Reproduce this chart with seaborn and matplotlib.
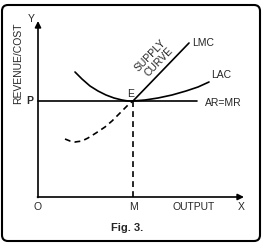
import matplotlib
matplotlib.use("Agg")
import matplotlib.pyplot as plt
import seaborn as sns
import pandas as pd
from matplotlib.patches import FancyBboxPatch

sns.set_theme(style="white")
plt.rcParams['font.family'] = ['Liberation Sans', 'DejaVu Sans']

# Data (output units vs revenue/cost units)
lac_output = [37, 44, 52, 60, 68, 76, 84, 90, 95, 107, 120, 134, 148, 160, 171]
lac_cost = [125, 118, 111, 106, 102, 99, 97, 96, 96, 97, 99, 102, 106, 110, 115]
mc_output = [27, 32, 37, 44, 50, 58, 67, 74, 80, 86, 91, 95]
mc_cost = [58, 56, 55, 56, 59, 64, 70, 76, 82, 88, 93, 96]
lmc_output = [95, 151]
lmc_cost = [96, 154]
price_output = [0, 159]
price_level = 96
eq_output = 95

lac_df = pd.DataFrame({"output": lac_output, "cost": lac_cost})
mc_df = pd.DataFrame({"output": mc_output, "cost": mc_cost})
lmc_df = pd.DataFrame({"output": lmc_output, "cost": lmc_cost})
ar_df = pd.DataFrame({"output": price_output, "cost": [price_level] * len(price_output)})

fig = plt.figure(figsize=(2.64, 2.48), dpi=100)
ax = fig.add_axes([0, 0, 1, 1])
ax.set_xlim(-38, 226)
ax.set_ylim(-51, 197)
ax.axis("off")

kw = dict(color="black", linewidth=1.2, sort=False, estimator=None, ax=ax, legend=False)
sns.lineplot(data=lac_df, x="output", y="cost", **kw)
sns.lineplot(data=lmc_df, x="output", y="cost", **kw)
sns.lineplot(data=ar_df, x="output", y="cost", **kw)
sns.lineplot(data=mc_df, x="output", y="cost", linestyle=(0, (3.5, 2.5)), **kw)
ax.plot([eq_output, eq_output], [0, price_level], color="black", linewidth=1.2,
        linestyle=(0, (3.5, 2.5)))

# axes with arrows
ax.annotate("", xy=(0, 176), xytext=(0, -0.5),
            arrowprops=dict(arrowstyle="-|>", color="black", lw=1.2,
                            mutation_scale=9, shrinkA=0, shrinkB=0))
ax.annotate("", xy=(206, 0), xytext=(-0.5, 0),
            arrowprops=dict(arrowstyle="-|>", color="black", lw=1.2,
                            mutation_scale=9, shrinkA=0, shrinkB=0))

fs = 7.5
ax.text(-7, 178, "Y", fontsize=fs, ha="center", va="center")
ax.text(-8, 96, "P", fontsize=fs, ha="center", va="center", fontweight="bold")
ax.text(0, -10, "O", fontsize=fs, ha="center", va="center")
ax.text(eq_output, -10, "M", fontsize=fs, ha="center", va="center")
ax.text(156, -10, "OUTPUT", fontsize=fs, ha="center", va="center")
ax.text(203, -10, "X", fontsize=fs, ha="center", va="center")
ax.text(93, 103, "E", fontsize=fs, ha="center", va="center")
ax.text(154, 154, "LMC", fontsize=fs, ha="left", va="center")
ax.text(173, 122, "LAC", fontsize=fs, ha="left", va="center")
ax.text(167, 94, "AR=MR", fontsize=fs, ha="left", va="center")
ax.text(-20, 134, "REVENUE/COST", fontsize=fs, ha="center", va="center", rotation=90)
ax.text(112, 141, "SUPPLY", fontsize=7.5, ha="center", va="center", rotation=46)
ax.text(121, 135, "CURVE", fontsize=7.5, ha="center", va="center", rotation=46)
ax.text(89, -31, "Fig. 3.", fontsize=8, ha="center", va="center", fontweight="bold")

frame = FancyBboxPatch((-36, -44), 258, 236, boxstyle="round,pad=0,rounding_size=6",
                       fill=False, edgecolor="black", linewidth=1.5)
ax.add_patch(frame)

fig.savefig("out.png", dpi=100)
